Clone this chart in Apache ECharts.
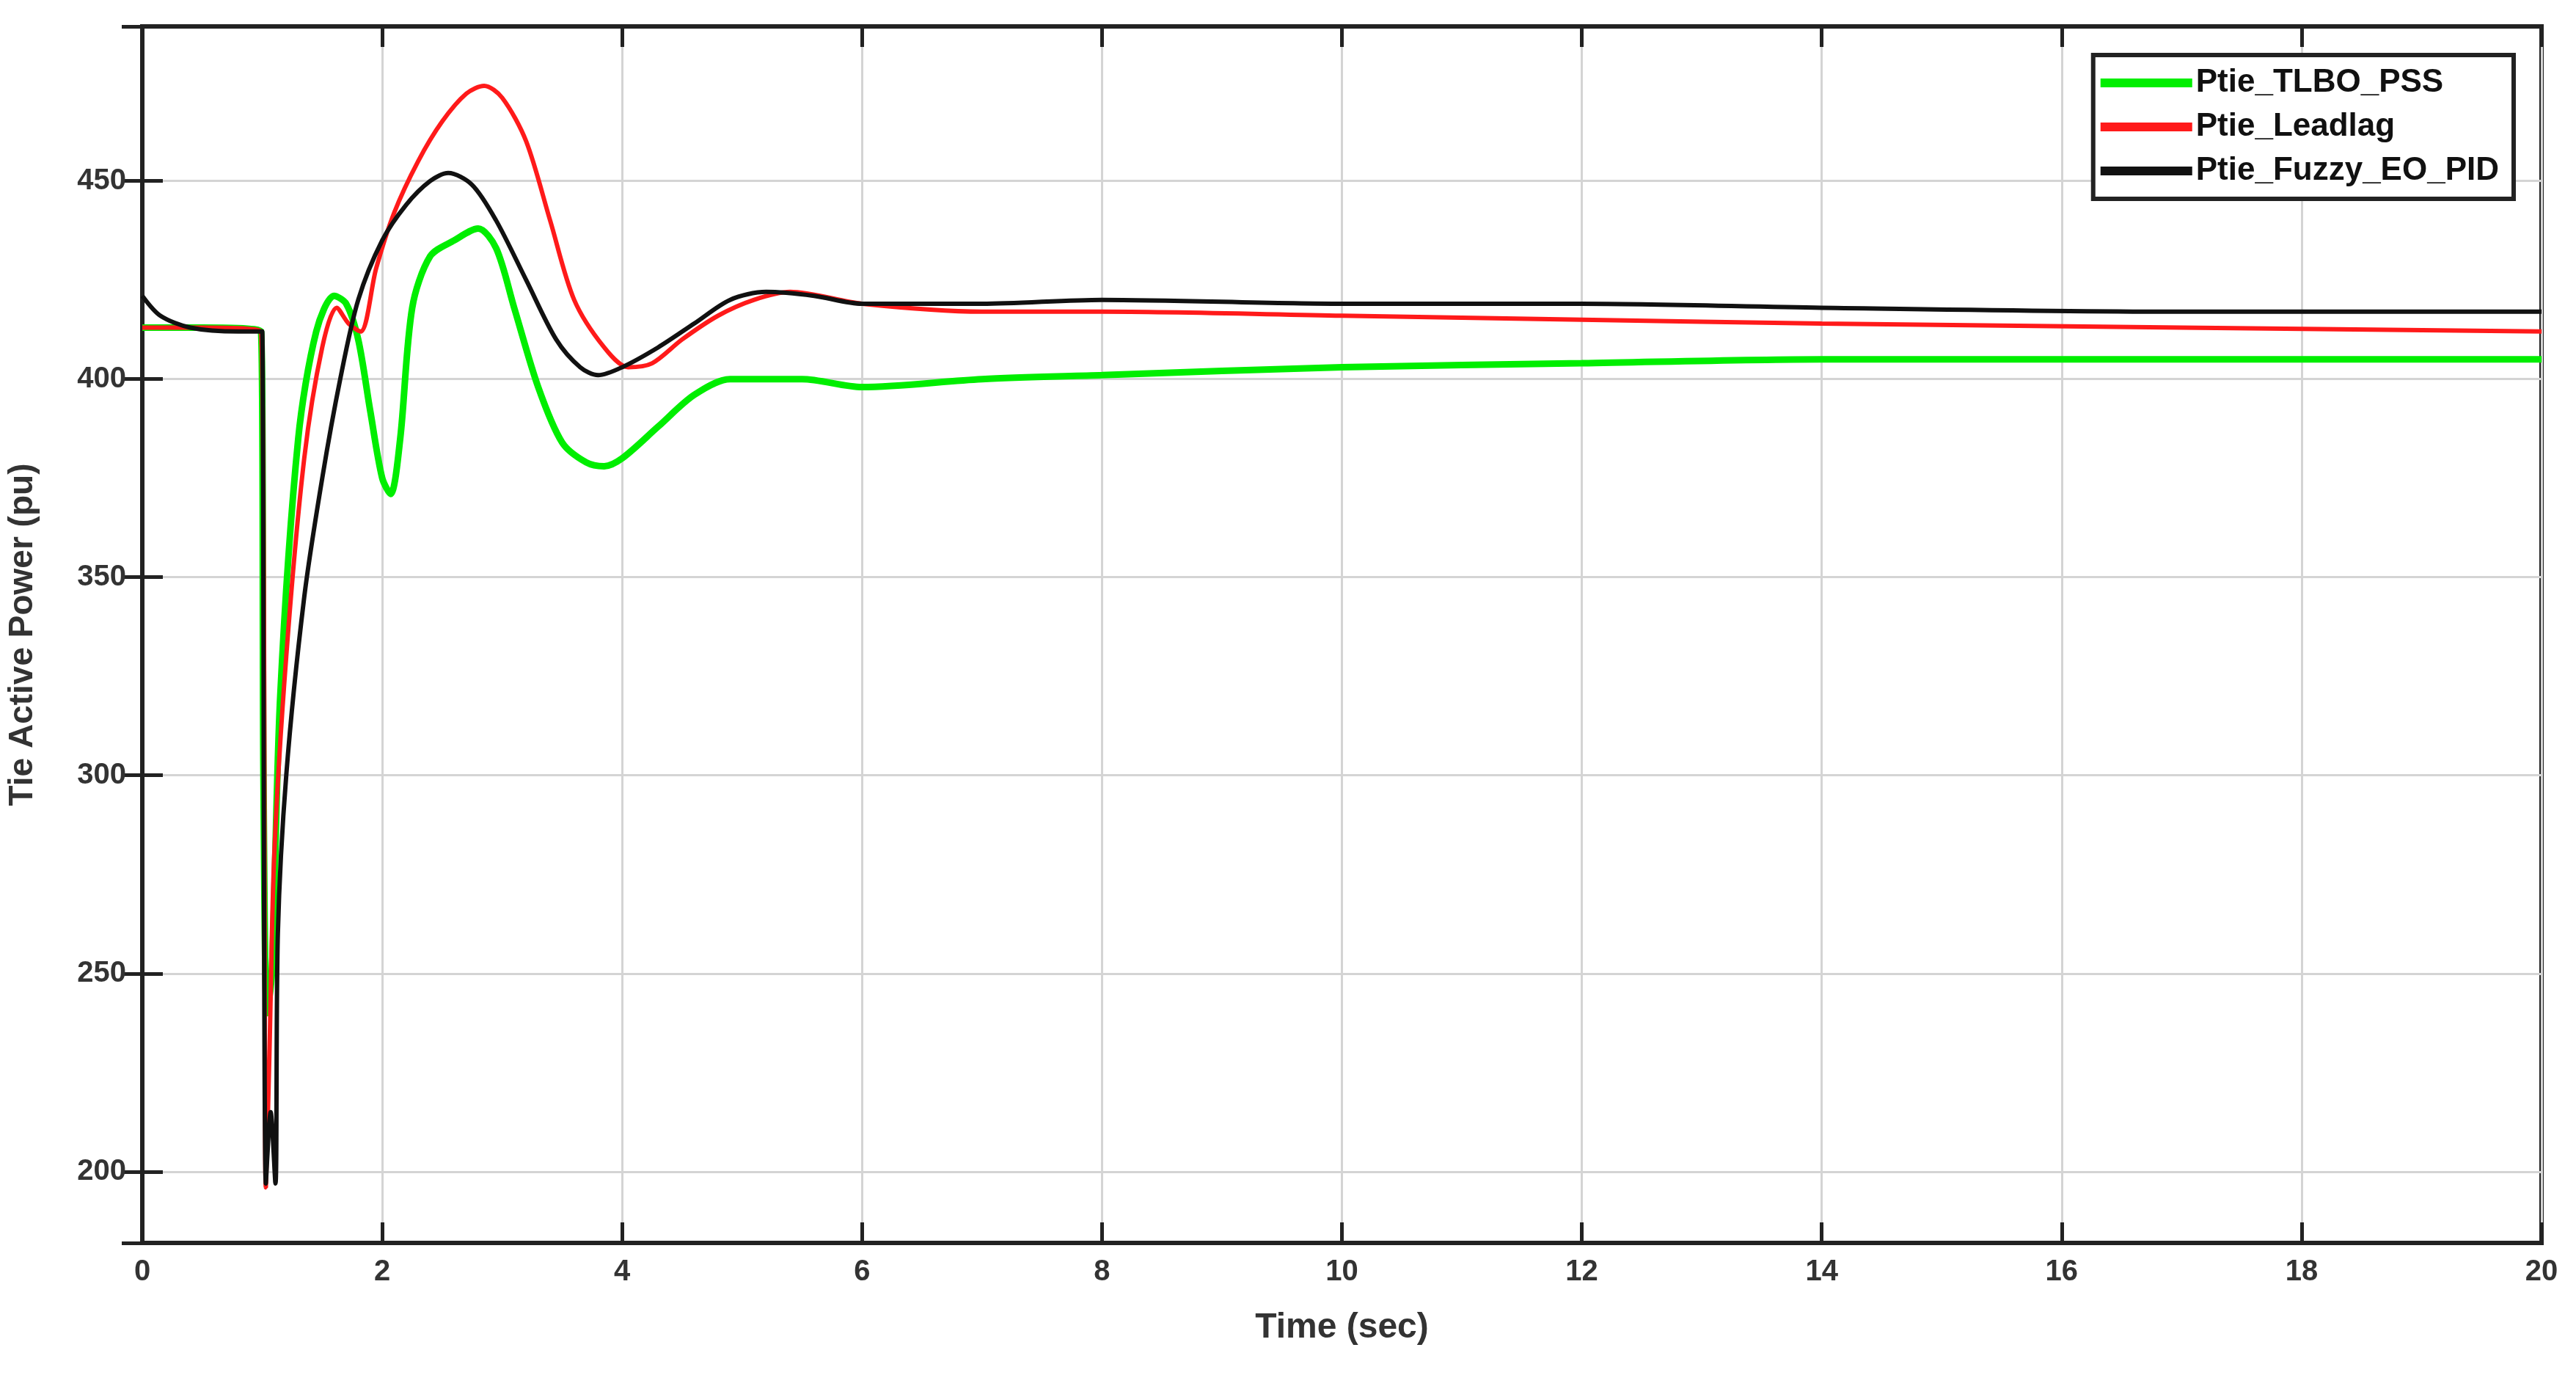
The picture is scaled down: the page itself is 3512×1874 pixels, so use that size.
<!DOCTYPE html>
<html>
<head>
<meta charset="utf-8">
<script src="https://cdn.jsdelivr.net/npm/echarts@6/dist/echarts.min.js"></script>
<style>html,body{margin:0;padding:0;background:#fff}#showcase{width:3512px;height:1874px}</style>
</head>
<body>
<div id="showcase"></div>
<script>
// time points / values
var tlboT = [0, 0.5, 0.99, 1.01, 1.04, 1.08, 1.15, 1.3, 1.45, 1.6, 1.7, 1.8, 1.9, 2.0, 2.07, 2.15, 2.25, 2.4, 2.6, 2.8, 2.95, 3.1, 3.3, 3.5, 3.7, 3.85, 4.0, 4.3, 4.6, 4.9, 5.5, 6.0, 7, 8, 10, 12, 14, 17, 20];
var tlboV = [413, 413, 412, 300, 240, 250, 320, 385, 412, 421, 419, 410, 392, 375, 371, 385, 418, 431, 435, 438, 433, 418, 398, 384, 379, 378, 380, 388, 396, 400, 400, 398, 400, 401, 403, 404, 405, 405, 405];
var leadT = [0, 0.5, 0.99, 1.03, 1.06, 1.1, 1.2, 1.35, 1.5, 1.62, 1.72, 1.82, 1.95, 2.1, 2.3, 2.5, 2.7, 2.85, 3.0, 3.2, 3.4, 3.6, 3.85, 4.05, 4.25, 4.5, 4.8, 5.1, 5.4, 6.0, 7, 8, 10, 12, 14, 17, 20];
var leadV = [413, 413, 412, 196, 230, 280, 330, 380, 408, 418, 414, 412, 428, 442, 455, 465, 472, 474, 471, 460, 440, 420, 408, 403, 404, 410, 416, 420, 422, 419, 417, 417, 416, 415, 414, 413, 412];
var fuzzT = [0, 0.15, 0.4, 0.8, 0.99, 1.0, 1.03, 1.07, 1.11, 1.13, 1.2, 1.35, 1.5, 1.65, 1.8, 2.0, 2.2, 2.4, 2.55, 2.75, 2.95, 3.2, 3.45, 3.65, 3.8, 4.0, 4.3, 4.6, 4.9, 5.2, 5.6, 6.0, 7, 8, 10, 12, 14, 17, 20];
var fuzzV = [421, 416, 413, 412, 412, 412, 197, 215, 197, 260, 300, 345, 375, 400, 420, 435, 444, 450, 452, 449, 440, 425, 410, 403, 401, 403, 408, 414, 420, 422, 421, 419, 419, 420, 419, 419, 418, 417, 417];

function pairs(t, v) {
    return t.map(function (x, i) { return [x, v[i]]; });
}

var myChart = echarts.init(document.getElementById("showcase"));
var font = "Liberation Sans";
var axisLine = {show: true, lineStyle: {color: "#222", width: 6}};
var split = {show: true, lineStyle: {color: "#d4d4d4", width: 3}};
var tick = {inside: true, length: 28, lineStyle: {color: "#222", width: 5}};
var options = {
    backgroundColor: "#fff",
    textStyle: {fontFamily: font},
    grid: {left: 193, right: 47, top: 36, bottom: 180, show: true, borderColor: "#222", borderWidth: 6},
    legend: {
        orient: "vertical", right: 85, top: 75,
        backgroundColor: "#fff", borderColor: "#222", borderWidth: 6,
        padding: [16, 20, 16, 10], itemWidth: 125, itemHeight: 12, itemGap: 16,
        textStyle: {fontFamily: font, fontWeight: "bold", fontSize: 44, color: "#111"},
        data: [
            {name: "Ptie_TLBO_PSS", icon: "rect"},
            {name: "Ptie_Leadlag", icon: "rect"},
            {name: "Ptie_Fuzzy_EO_PID", icon: "rect"}
        ]
    },
    xAxis: [{
        type: "value", min: 0, max: 20, interval: 2,
        name: "Time (sec)", nameLocation: "middle", nameGap: 92,
        nameTextStyle: {fontFamily: font, fontWeight: "bold", fontSize: 48, color: "#333"},
        axisLine: axisLine, splitLine: split, axisTick: tick,
        axisLabel: {fontFamily: font, fontWeight: "bold", fontSize: 40, color: "#333", margin: 20}
    }, {
        type: "value", min: 0, max: 20, interval: 2, position: "top",
        axisLine: axisLine, splitLine: {show: false}, axisLabel: {show: false}, axisTick: tick
    }],
    yAxis: [{
        type: "value", min: 182, max: 489, splitNumber: 6,
        name: "Tie Active Power (pu)", nameLocation: "middle", nameGap: 140,
        nameTextStyle: {fontFamily: font, fontWeight: "bold", fontSize: 46, color: "#333"},
        axisLine: axisLine, splitLine: split, axisTick: tick,
        axisLabel: {fontFamily: font, fontWeight: "bold", fontSize: 40, color: "#333", margin: 22,
                    showMinLabel: false, showMaxLabel: false}
    }, {
        type: "value", min: 182, max: 489, splitNumber: 6, position: "right",
        axisLine: axisLine, splitLine: {show: false}, axisLabel: {show: false}, axisTick: tick
    }],
    series: [
        {name: "Ptie_TLBO_PSS", type: "line", data: pairs(tlboT, tlboV), showSymbol: false,
         smooth: 0.3, itemStyle: {color: "#00ee00"}, lineStyle: {width: 9, color: "#00ee00"}},
        {name: "Ptie_Leadlag", type: "line", data: pairs(leadT, leadV), showSymbol: false,
         smooth: 0.3, itemStyle: {color: "#ff1a1a"}, lineStyle: {width: 6, color: "#ff1a1a"}},
        {name: "Ptie_Fuzzy_EO_PID", type: "line", data: pairs(fuzzT, fuzzV), showSymbol: false,
         smooth: 0.3, itemStyle: {color: "#111"}, lineStyle: {width: 6, color: "#111"}}
    ]
};
myChart.setOption(options);
</script>
</body>
</html>
